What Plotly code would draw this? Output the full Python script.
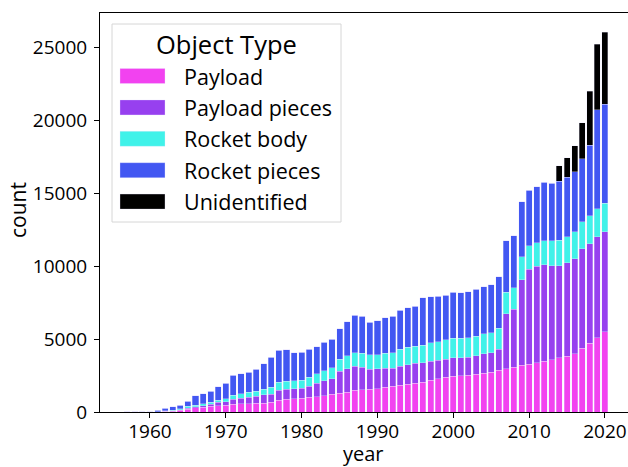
import plotly.graph_objects as go

# Catalogued objects in orbit at year end, by object type
years = list(range(1957, 2021))

payload = [1, 2, 5, 12, 15, 40, 60, 130, 200, 300, 340, 390, 430, 480, 525, 550,
           550, 595, 615, 685, 820, 890, 920, 935, 1000, 1050, 1120, 1210, 1275,
           1370, 1480, 1530, 1575, 1600, 1715, 1760, 1850, 1920, 1990, 2030, 2170,
           2285, 2400, 2470, 2490, 2535, 2605, 2660, 2720, 2855, 2970, 3060, 3200,
           3290, 3370, 3470, 3590, 3725, 3840, 4000, 4365, 4730, 5095, 5505]

payload_pieces = [0, 0, 0, 0, 0, 10, 20, 40, 60, 70, 80, 140, 230, 230, 365, 390,
                  480, 480, 570, 550, 660, 685, 670, 685, 755, 940, 1025, 1075, 1535,
                  1600, 1675, 1555, 1375, 1370, 1275, 1230, 1305, 1325, 1345, 1350,
                  1330, 1255, 1235, 1255, 1235, 1210, 1255, 1340, 1335, 1465, 3780,
                  3990, 5895, 6520, 6620, 6630, 6445, 6330, 6400, 6535, 6855, 6835,
                  6930, 6880]

rocket_body = [1, 2, 4, 8, 15, 30, 40, 50, 120, 100, 130, 140, 140, 200, 275, 300,
               320, 365, 390, 480, 550, 525, 560, 575, 645, 635, 685, 755, 800, 890,
               910, 955, 980, 960, 1030, 1075, 1165, 1185, 1165, 1215, 1255, 1280,
               1325, 1325, 1325, 1350, 1325, 1380, 1395, 1430, 1465, 1495, 1555, 1610,
               1640, 1670, 1715, 1740, 1785, 1830, 1830, 1900, 1920, 1950]

rocket_pieces = [0, 0, 3, 5, 80, 170, 240, 260, 350, 630, 705, 770, 935, 1080, 1345,
                 1385, 1390, 1510, 1740, 2055, 2195, 2170, 1915, 1895, 1920, 1855, 1945,
                 1965, 2105, 2335, 2585, 2545, 2240, 2330, 2450, 2520, 2680, 2725, 2745,
                 3245, 3155, 3135, 3065, 3155, 3130, 3155, 3225, 3220, 3300, 3540, 3545,
                 3545, 3775, 3805, 3820, 4015, 3965, 4050, 4095, 4115, 4345, 4845, 6810,
                 6790]

unidentified = [0] * 57 + [1070, 1320, 1805, 2465, 3705, 4505, 4960]

series_names = ["Payload", "Payload pieces", "Rocket body", "Rocket pieces", "Unidentified"]
series_values = [payload, payload_pieces, rocket_body, rocket_pieces, unidentified]
series_colors = ["#F242F0", "#9740EF", "#40F2E9", "#4257F2", "#000000"]

x_ticks = [1960, 1970, 1980, 1990, 2000, 2010, 2020]
y_ticks = [0, 5000, 10000, 15000, 20000, 25000]

FONT = "Open Sans"

# Figure geometry (pixels)
W, H = 628, 467
ML, MR, MT, MB = 100, 0, 13, 55
PW, PH = W - ML - MR, H - MT - MB


def px_x(px):
    return (px - ML) / PW


def px_y(py):
    return (H - MB - py) / PH


fig = go.Figure()
for name, vals, col in zip(series_names, series_values, series_colors):
    fig.add_trace(go.Bar(
        x=years, y=vals, name=name, width=0.8,
        marker=dict(color=col, line=dict(color="rgba(235,230,255,0.55)", width=0.6)),
        showlegend=False,
    ))

totals = [sum(v) for v in zip(*series_values)]
ymax = max(totals) * 1.05
x_lo = (years[0] - 0.4) - 0.05 * ((years[-1] + 0.4) - (years[0] - 0.4))
x_hi = x_lo + PW / 7.583

fig.update_layout(
    width=W, height=H,
    margin=dict(l=ML, r=MR, t=MT, b=MB, pad=0),
    barmode="stack",
    plot_bgcolor="white", paper_bgcolor="white",
    font=dict(family=FONT, size=19, color="black"),
    xaxis=dict(
        range=[x_lo, x_hi], tickvals=x_ticks, ticktext=[str(t) for t in x_ticks],
        ticks="outside", ticklen=5, tickwidth=1, tickcolor="black",
        showline=True, linecolor="black", linewidth=1, mirror=True,
        showgrid=False, zeroline=False, tickfont=dict(size=19),
        ticklabelstandoff=-3,
    ),
    yaxis=dict(
        range=[0, ymax], tickvals=y_ticks, ticktext=[str(t) for t in y_ticks],
        ticks="outside", ticklen=5, tickwidth=1, tickcolor="black",
        showline=True, linecolor="black", linewidth=1,
        showgrid=False, zeroline=False, tickfont=dict(size=19),
        ticklabelstandoff=3,
    ),
)

annotations = [
    dict(text="year", x=px_x(363), y=px_y(454), xref="paper", yref="paper",
         showarrow=False, font=dict(size=20), xanchor="center", yanchor="middle"),
    dict(text="count", x=px_x(18), y=px_y(210), xref="paper", yref="paper",
         showarrow=False, font=dict(size=21), textangle=-90,
         xanchor="center", yanchor="middle"),
]

# Legend panel
shapes = [dict(type="rect", xref="paper", yref="paper",
               x0=px_x(112), x1=px_x(341), y0=px_y(222), y1=px_y(24),
               line=dict(color="#d6d6d6", width=1), fillcolor="rgba(255,255,255,0.85)",
               layer="above")]
annotations.append(dict(text="Object Type", x=px_x(226), y=px_y(44), xref="paper",
                        yref="paper", showarrow=False, font=dict(size=25.5),
                        xanchor="center", yanchor="middle"))
for i, (name, col) in enumerate(zip(series_names, series_colors)):
    cy = 76 + 31.4 * i
    shapes.append(dict(type="rect", xref="paper", yref="paper",
                       x0=px_x(120), x1=px_x(165), y0=px_y(cy + 7.5), y1=px_y(cy - 7.5),
                       line=dict(color="rgba(235,230,255,0.55)", width=0.6),
                       fillcolor=col, layer="above"))
    annotations.append(dict(text=name, x=px_x(182), y=px_y(cy), xref="paper",
                            yref="paper", showarrow=False, font=dict(size=21.5),
                            xanchor="left", yanchor="middle"))

fig.update_layout(shapes=shapes, annotations=annotations)

fig.write_html("out.html")
